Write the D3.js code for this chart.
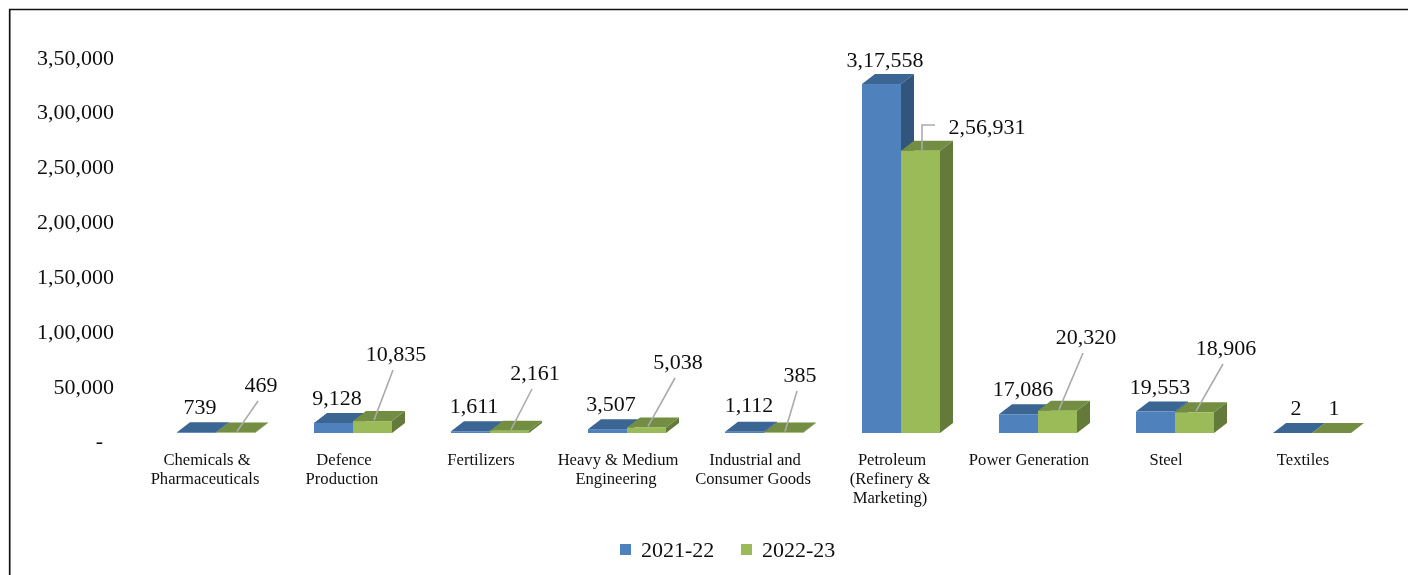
<!DOCTYPE html>
<html><head><meta charset="utf-8">
<script src="https://cdn.jsdelivr.net/npm/d3@7/dist/d3.min.js"></script>
<style>html,body{margin:0;padding:0;background:#fff}svg{display:block}text{font-family:"Liberation Serif",serif;fill:#111}</style>
</head><body><div id="chart"></div>
<script>
const categories=[["Chemicals &","Pharmaceuticals"],["Defence","Production"],["Fertilizers"],["Heavy & Medium","Engineering"],["Industrial and","Consumer Goods"],["Petroleum","(Refinery &","Marketing)"],["Power Generation"],["Steel"],["Textiles"]];
const seriesNames=["2021-22","2022-23"];
const values2021=[739,9128,1611,3507,1112,317558,17086,19553,2];
const values2022=[469,10835,2161,5038,385,256931,20320,18906,1];
const tickValues=[0,50000,100000,150000,200000,250000,300000,350000];
// Hand placement of data labels (pixel centre), as in the reference
const labelPos2021=[[200,407],[337,398],[474,406],[611,404],[749,405],[885,60],[1023,389],[1160,387],[1296,408]];
const labelPos2022=[[261,385],[396,354],[535,373],[678,362],[800,375],[987,127],[1086,337],[1226,348],[1334,408]];

const W=1408,H=575;
const colors=[{front:"#4F81BD",top:"#3A6592",side:"#31547E"},{front:"#9BBB59",top:"#738E42",side:"#647A3A"}];
const depth={dx:13,dy:10};
const svg=d3.select("#chart").append("svg").attr("width",W).attr("height",H);
const defs=svg.append("defs");
defs.append("filter").attr("id","soft").append("feGaussianBlur").attr("stdDeviation",0.6);
defs.append("filter").attr("id","softText").append("feGaussianBlur").attr("stdDeviation",0.3);

// frame
svg.append("path").attr("d",`M9.7 ${H}V9.5H${W}`).attr("fill","none").attr("stroke","#111").attr("stroke-width",1.7);

const y=d3.scaleLinear().domain([0,350000]).range([433,48.4]);
const yLabel=d3.scaleLinear().domain([0,350000]).range([441,57]);
const idx=categories.map((d,i)=>i);
const x=d3.scaleBand().domain(idx).range([147.5,1380.5]);
const barW=39;
const inr=v=>{const s=String(v);if(s.length<=3)return s;let h=s.slice(0,-3),o=[];while(h.length>2){o.unshift(h.slice(-2));h=h.slice(0,-2);}if(h)o.unshift(h);return o.join(",")+","+s.slice(-3);};

// axis
const axis=d3.axisLeft(yLabel).tickValues(tickValues).tickSize(0).tickPadding(0).tickFormat(v=>v===0?"-":inr(v));
const ag=svg.append("g").attr("transform","translate(114,0)").attr("filter","url(#softText)").call(axis);
ag.select(".domain").remove();
ag.selectAll("text").attr("font-size",22).attr("dy","0.32em")
  .attr("transform",d=>`translate(${d===0?-11:0},${d===0?-1:0})`).style("fill","#111");

// bars
const bars=svg.append("g").attr("filter","url(#soft)");
function drawBar(series,i,v){
  const c=colors[series];
  const x0=x(i)+x.bandwidth()/2-barW+series*barW, x1=x0+barW, yb=y(0), yt=y(v);
  const g=bars.append("g");
  g.append("path").attr("d",`M${x1} ${yb}L${x1+depth.dx} ${yb-depth.dy}L${x1+depth.dx} ${yt-depth.dy}L${x1} ${yt}Z`).attr("fill",c.side);
  g.append("path").attr("d",`M${x0} ${yt}L${x0+depth.dx} ${yt-depth.dy}L${x1+depth.dx} ${yt-depth.dy}L${x1} ${yt}Z`).attr("fill",c.top);
  g.append("rect").attr("x",x0).attr("y",yt).attr("width",barW).attr("height",yb-yt).attr("fill",c.front);
}
idx.forEach(i=>{drawBar(0,i,values2021[i]);});
idx.forEach(i=>{drawBar(1,i,values2022[i]);});

// leader lines for 2022-23 labels
const leaders=svg.append("g").attr("fill","none").attr("stroke","#ABABAB").attr("stroke-width",1.6);
idx.forEach(i=>{
  if(values2022[i]<100)return;
  const ex=x(i)+x.bandwidth()/2+barW/2+1.5, ey=y(values2022[i])-1;
  const [lx,ly]=labelPos2022[i];
  if(values2022[i]>100000){
    leaders.append("path").attr("d",`M${lx-52} ${ly-2}H${ex}V${ey}`);
  }else{
    leaders.append("path").attr("d",`M${lx-3} ${ly+16}L${ex} ${ey}`);
  }
});

// data labels
const lab=svg.append("g").attr("font-size",22).attr("text-anchor","middle").attr("filter","url(#softText)");
[[values2021,labelPos2021],[values2022,labelPos2022]].forEach(([vals,pos])=>{
  vals.forEach((v,i)=>lab.append("text").attr("x",pos[i][0]).attr("y",pos[i][1]).attr("dy","0.33em").text(inr(v)));
});

// category labels
const cat=svg.append("g").attr("font-size",16.6).attr("text-anchor","middle").attr("filter","url(#softText)");
categories.forEach((lines,i)=>{
  const cx=x(i)+x.bandwidth()/2-11;
  const t=cat.append("text").attr("x",cx).attr("y",465);
  lines.forEach((l,k)=>t.append("tspan").attr("x",cx+(k===0?2:0)).attr("y",465+k*19).text(l));
});

// legend
const leg=svg.append("g").attr("filter","url(#softText)");
[[620,641],[741,762]].forEach(([sx,tx],k)=>{
  leg.append("rect").attr("x",sx).attr("y",544).attr("width",11).attr("height",11).attr("fill",colors[k].front);
  leg.append("text").attr("x",tx).attr("y",557).attr("font-size",22).text(seriesNames[k]);
});
</script></body></html>
